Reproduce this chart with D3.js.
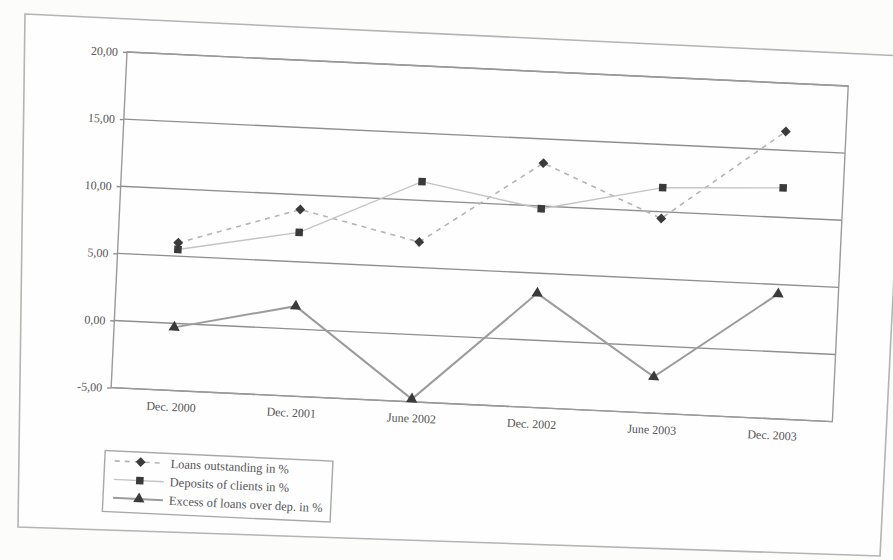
<!DOCTYPE html>
<html>
<head>
<meta charset="utf-8">
<script src="https://cdn.jsdelivr.net/npm/d3@7"></script>
<style>
  html, body { margin: 0; padding: 0; background: #fcfcfb; }
  svg { display: block; }
  text { font-family: "Liberation Serif", "DejaVu Serif", serif; fill: #555; }
</style>
</head>
<body>
<svg id="chart" width="893" height="560"></svg>
<script>
// Reporting periods on the horizontal axis
const categories = ["Dec. 2000", "Dec. 2001", "June 2002", "Dec. 2002", "June 2003", "Dec. 2003"];

// Series values (percent)
const loans = [6.0, 8.9, 6.9, 13.2, 9.5, 16.4];
const deposits = [5.5, 7.2, 11.4, 9.8, 11.8, 12.2];
const excess = [-0.3, 1.7, -4.8, 3.5, -2.3, 4.3];

// Vertical axis ticks
const yTicks = [-5, 0, 5, 10, 15, 20];

// Legend labels
const seriesNames = ["Loans outstanding in %", "Deposits of clients in %", "Excess of loans over dep. in %"];

const svg = d3.select("#chart");

// Page frame around the whole figure (printed page is slightly skewed)
svg.append("path")
  .attr("d", "M25,14 L905,56 L880,556 L18,527 Z")
  .attr("fill", "#fefefe")
  .attr("stroke", "#b4b4b4")
  .attr("stroke-width", 1.6);

const W = 722, H = 336;
const g = svg.append("g").attr("transform", "translate(127,52) rotate(2.7)");

const x = d3.scalePoint().domain(categories).range([0, W]).padding(0.5);
const y = d3.scaleLinear().domain([-5, 20]).range([H, 0]);

const locale = d3.formatLocale({ decimal: ",", thousands: ".", grouping: [3], currency: ["", ""], minus: "-" });
const fmt = locale.format(".2f");

// Horizontal gridlines
g.append("g")
  .selectAll("line")
  .data(yTicks)
  .join("line")
  .attr("x1", 0).attr("x2", W)
  .attr("y1", d => y(d)).attr("y2", d => y(d))
  .attr("stroke", "#8f8f8f")
  .attr("stroke-width", 1.4);

// Plot area border
g.append("rect")
  .attr("x", 0).attr("y", 0).attr("width", W).attr("height", H)
  .attr("fill", "none")
  .attr("stroke", "#9a9a9a")
  .attr("stroke-width", 1.4);

// Vertical axis labels
const yAxis = g.append("g")
  .call(d3.axisLeft(y).tickValues(yTicks).tickFormat(fmt).tickSize(4).tickPadding(5));
yAxis.select(".domain").remove();
yAxis.selectAll(".tick line").attr("stroke", "#8f8f8f").attr("stroke-width", 1.4);
yAxis.selectAll(".tick text")
  .style("font-family", "'Liberation Serif', serif")
  .style("font-size", "12px")
  .attr("fill", "#555");

// Category labels
const xAxis = g.append("g")
  .attr("transform", `translate(0,${H})`)
  .call(d3.axisBottom(x).tickSize(0).tickPadding(12));
xAxis.select(".domain").remove();
xAxis.selectAll(".tick text")
  .style("font-family", "'Liberation Serif', serif")
  .style("font-size", "12px")
  .attr("fill", "#555");

const roundMark = d3.symbolDiamond2 || d3.symbolCircle;

const series = [
  { name: seriesNames[0], values: loans, stroke: "#b5b5b5", width: 1.6, dash: "5,5", symbol: roundMark, size: 62 },
  { name: seriesNames[1], values: deposits, stroke: "#c4c4c4", width: 1.4, dash: null, symbol: d3.symbolSquare, size: 56 },
  { name: seriesNames[2], values: excess, stroke: "#9c9c9c", width: 2, dash: null, symbol: d3.symbolTriangle, size: 55 }
];

const line = d3.line().x((d, i) => x(categories[i])).y(d => y(d));

series.forEach(s => {
  g.append("path")
    .datum(s.values)
    .attr("d", line)
    .attr("fill", "none")
    .attr("stroke", s.stroke)
    .attr("stroke-width", s.width)
    .attr("stroke-dasharray", s.dash);
  g.append("g")
    .selectAll("path")
    .data(s.values)
    .join("path")
    .attr("transform", (d, i) => `translate(${x(categories[i])},${y(d)})`)
    .attr("d", d3.symbol(s.symbol, s.size))
    .attr("fill", "#3a3a3a");
});

// Legend
const lg = g.append("g").attr("transform", "translate(-3,399)");
lg.append("rect")
  .attr("width", 228).attr("height", 61)
  .attr("fill", "#fefefe")
  .attr("stroke", "#a8a8a8")
  .attr("stroke-width", 1.4);
series.forEach((s, i) => {
  const row = lg.append("g").attr("transform", `translate(0,${10 + i * 18.5})`);
  row.append("line")
    .attr("x1", 10).attr("x2", 60)
    .attr("stroke", s.stroke)
    .attr("stroke-width", s.width)
    .attr("stroke-dasharray", s.dash);
  row.append("path")
    .attr("transform", "translate(36,0)")
    .attr("d", d3.symbol(s.symbol, s.size))
    .attr("fill", "#3a3a3a");
  row.append("text")
    .attr("x", 66).attr("dy", "0.35em")
    .style("font-size", "12.5px")
    .text(s.name);
});
</script>
</body>
</html>
